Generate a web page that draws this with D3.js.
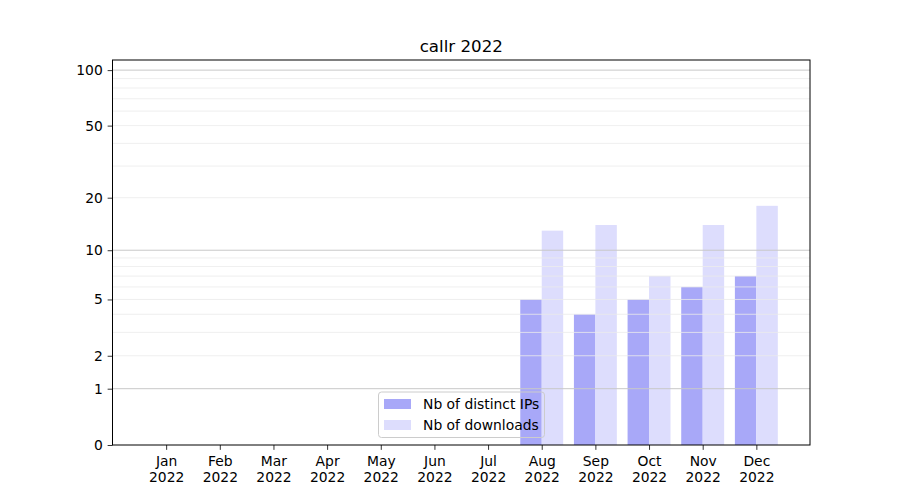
<!DOCTYPE html>
<html>
<head>
<meta charset="utf-8">
<script src="https://cdn.jsdelivr.net/npm/d3@7/dist/d3.min.js"></script>
<style>
  body { margin: 0; background: #fff; }
  svg { display: block; font-family: "DejaVu Sans", sans-serif; }
</style>
</head>
<body>
<svg id="chart" width="900" height="500"></svg>
<script>
const months = ["Jan", "Feb", "Mar", "Apr", "May", "Jun", "Jul", "Aug", "Sep", "Oct", "Nov", "Dec"];
const yearLabel = "2022";
const distinctIPs = [0, 0, 0, 0, 0, 0, 0, 5, 4, 5, 6, 7];
const downloads = [0, 0, 0, 0, 0, 0, 0, 13, 14, 7, 14, 18];
const yTicks = [0, 1, 2, 5, 10, 20, 50, 100];
const majorGrid = [1, 10, 100];
const minorGrid = [2, 3, 4, 5, 6, 7, 8, 9, 20, 30, 40, 50, 60, 70, 80, 90];
const seriesNames = ["Nb of distinct IPs", "Nb of downloads"];
const seriesColors = ["rgb(168,168,248)", "rgb(221,221,253)"];
const title = "callr 2022";

const svg = d3.select("#chart");
const L = 112.5, R = 810, T = 60, B = 445;
const FS = 13.89;

const x = d3.scaleLinear().domain([-1, 12]).range([L, R]);
const y = d3.scaleSymlog().constant(1).domain([0, 113.4]).range([B, T]);
const bw = 0.4;

// bars
const series = [distinctIPs, downloads];
series.forEach((vals, si) => {
  svg.append("g").selectAll("rect").data(vals).join("rect")
    .attr("x", (d, i) => x(i - bw + si * bw))
    .attr("width", x(bw) - x(0))
    .attr("y", d => y(d))
    .attr("height", d => y(0) - y(d))
    .attr("fill", seriesColors[si]);
});

// grid
const grid = svg.append("g");
grid.selectAll("line.minor").data(minorGrid).join("line")
  .attr("x1", L).attr("x2", R)
  .attr("y1", d => y(d)).attr("y2", d => y(d))
  .attr("stroke", "#ebebeb").attr("stroke-width", 0.8);
grid.selectAll("line.major").data(majorGrid).join("line")
  .attr("x1", L).attr("x2", R)
  .attr("y1", d => y(d)).attr("y2", d => y(d))
  .attr("stroke", "#c8c8c8").attr("stroke-width", 1);

// axes
const yAxis = d3.axisLeft(y).tickValues(yTicks).tickFormat(d3.format("d")).tickSizeOuter(0).tickSize(4.86).tickPadding(4.86);
const gy = svg.append("g").attr("transform", `translate(${L},0)`).call(yAxis);
gy.select(".domain").remove();
gy.selectAll("text").attr("font-size", FS + "px").attr("fill", "#000").attr("font-family", "DejaVu Sans");
gy.selectAll("line").attr("stroke", "#000").attr("stroke-width", 0.8);

const xAxis = d3.axisBottom(x).tickValues(d3.range(months.length)).tickFormat("").tickSizeOuter(0).tickSize(4.86);
const gx = svg.append("g").attr("transform", `translate(0,${B})`).call(xAxis);
gx.select(".domain").remove();
gx.selectAll("line").attr("stroke", "#000").attr("stroke-width", 0.8);
gx.selectAll(".tick").each(function(d) {
  const t = d3.select(this).append("text")
    .attr("fill", "#000").attr("font-size", FS + "px").attr("font-family", "DejaVu Sans").attr("text-anchor", "middle");
  t.append("tspan").attr("x", 0).attr("y", 21).text(months[d]);
  t.append("tspan").attr("x", 0).attr("y", 37).text(yearLabel);
});

// frame
svg.append("rect").attr("x", L).attr("y", T).attr("width", R - L).attr("height", B - T)
  .attr("fill", "none").attr("stroke", "#000").attr("stroke-width", 1);

// title
svg.append("text").attr("x", (L + R) / 2).attr("y", 52).attr("text-anchor", "middle")
  .attr("font-size", "16.67px").attr("fill", "#000").text(title);

// legend
const lg = svg.append("g");
const lx = 378.5, ly = 392, lw = 166, lh = 45.5;
lg.append("rect").attr("x", lx).attr("y", ly).attr("width", lw).attr("height", lh)
  .attr("rx", 3).attr("fill", "none").attr("stroke", "#cccccc").attr("stroke-width", 1);
seriesNames.forEach((name, i) => {
  lg.append("rect").attr("x", lx + 5.5).attr("y", ly + 7 + i * 21).attr("width", 27).attr("height", 10)
    .attr("fill", seriesColors[i]);
  lg.append("text").attr("x", lx + 44.5).attr("y", ly + 17 + i * 21)
    .attr("font-size", FS + "px").attr("fill", "#000").text(name);
});
</script>
</body>
</html>
